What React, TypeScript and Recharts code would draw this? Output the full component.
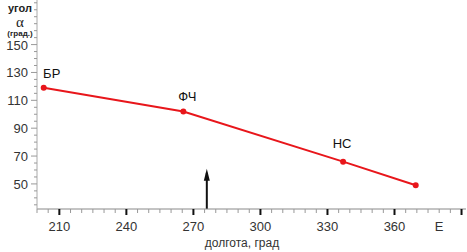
import React from "react";
import {
  LineChart,
  Line,
  XAxis,
  YAxis,
  ReferenceLine,
  ReferenceDot,
  LabelList,
} from "recharts";

// longitude (deg) and angle alpha (deg)
const longitudes = [203, 265.5, 337, 369.5];
const angles = [119, 102, 66, 49];
const pointNames = ["БР", "ФЧ", "НС", ""];

const xMajorTicks = [210, 240, 270, 300, 330, 360, 390];
const xTickLabels: Record<number, string> = {
  210: "210",
  240: "240",
  270: "270",
  300: "300",
  330: "330",
  360: "360",
  380: "E",
};
const yTickLabels = [50, 70, 90, 110, 130, 150];
const arrowX = 276;
const arrowFrom = 32;
const arrowTo = 58;

const data = longitudes.map((x, i) => ({ x, y: angles[i], name: pointNames[i] }));

const xTicks: number[] = [];
for (let v = 200; v <= 390; v += 5) xTicks.push(v);
const yTicks: number[] = [];
for (let v = 35; v <= 180; v += 5) yTicks.push(v);

const font = "'Liberation Sans', Arial, sans-serif";

const XTick = (props: any) => {
  const { x, y, payload } = props;
  const v = payload.value;
  const major = xMajorTicks.includes(v);
  const label = xTickLabels[v];
  return (
    <g>
      <line
        x1={x}
        x2={x}
        y1={y - 8}
        y2={y - 8 + (major ? 6 : 4)}
        stroke={major ? "#111" : "#999"}
        strokeWidth={major ? 2 : 1}
      />
      {label && (
        <text x={x} y={y + 14} textAnchor="middle" fontSize={13} fill="#333" fontFamily={font}>
          {label}
        </text>
      )}
    </g>
  );
};

const YTick = (props: any) => {
  const { x, y, payload } = props;
  const v = payload.value;
  const major = yTickLabels.includes(v);
  return (
    <g>
      <line x1={x + 8 - (major ? 6 : 3)} x2={x + 8} y1={y} y2={y} stroke="#999" strokeWidth={1} />
      {major && (
        <text x={x - 1} y={y + 5} textAnchor="end" fontSize={13} fill="#333" fontFamily={font}>
          {v}
        </text>
      )}
    </g>
  );
};

const PointLabel = (props: any) => {
  const { x, y, value, index } = props;
  if (!value) return null;
  const dx = index === 0 ? 8 : index === 2 ? -1 : 4;
  const dy = index === 2 ? -14 : -10;
  return (
    <text x={x + dx} y={y + dy} textAnchor="middle" fontSize={13} fill="#111" fontFamily={font}>
      {value}
    </text>
  );
};

const ArrowHead = (props: any) => {
  const { cx, cy } = props;
  return <polygon points={`${cx},${cy - 4} ${cx - 3},${cy + 8} ${cx + 3},${cy + 8}`} fill="#111" />;
};

export default function App() {
  return (
    <div style={{ position: "absolute", left: 0, top: 0, width: 467, height: 252, background: "#fff" }}>
      <LineChart
        width={467}
        height={252}
        data={data}
        margin={{ top: 0, right: 1, bottom: 0, left: 0 }}
      >
        <XAxis
          type="number"
          dataKey="x"
          domain={[200, 392]}
          ticks={xTicks}
          interval={0}
          tick={<XTick />}
          tickLine={false}
          axisLine={{ stroke: "#888" }}
          height={43}
        />
        <YAxis
          type="number"
          domain={[32, 182]}
          ticks={yTicks}
          interval={0}
          tick={<YTick />}
          tickLine={false}
          axisLine={{ stroke: "#aaa" }}
          width={37}
        />
        <ReferenceLine
          segment={[
            { x: arrowX, y: arrowFrom },
            { x: arrowX, y: arrowTo },
          ]}
          stroke="#111"
          strokeWidth={2}
        />
        <ReferenceDot x={arrowX} y={arrowTo} r={3} shape={<ArrowHead />} />
        <Line
          type="linear"
          dataKey="y"
          stroke="#e8161b"
          strokeWidth={2}
          dot={{ r: 2, fill: "#e8161b", stroke: "#e8161b" }}
          isAnimationActive={false}
        >
          <LabelList dataKey="name" content={<PointLabel />} />
        </Line>
      </LineChart>
      <div
        style={{
          position: "absolute",
          left: 0,
          top: 0,
          width: 40,
          textAlign: "center",
          fontFamily: font,
          color: "#222",
          lineHeight: 1,
        }}
      >
        <div style={{ fontSize: 11, fontWeight: "bold", marginTop: 3 }}>угол</div>
        <div style={{ fontSize: 15, fontFamily: "'Liberation Serif', serif", marginTop: 1 }}>α</div>
        <div style={{ fontSize: 8, fontWeight: "bold", marginTop: 0 }}>(град.)</div>
      </div>
      <div
        style={{
          position: "absolute",
          left: 197,
          top: 236,
          width: 90,
          textAlign: "center",
          fontFamily: font,
          fontSize: 12,
          color: "#333",
        }}
      >
        долгота, град
      </div>
    </div>
  );
}
